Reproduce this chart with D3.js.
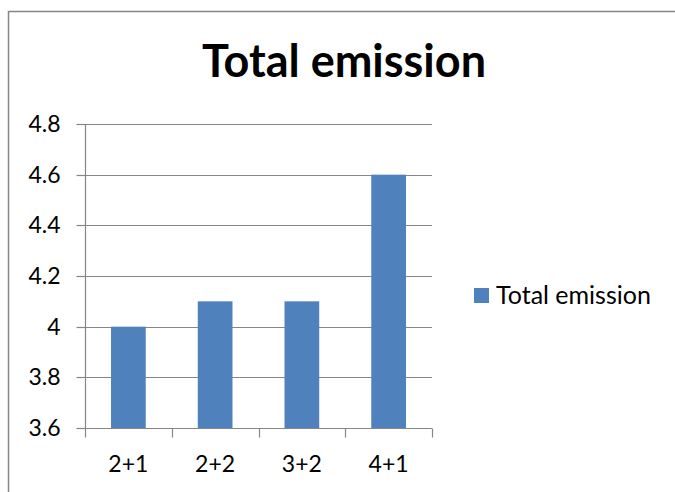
<!DOCTYPE html>
<html>
<head>
<meta charset="utf-8">
<script src="https://cdn.jsdelivr.net/npm/d3@7"></script>
<style>
  html, body { margin: 0; padding: 0; background: #fff; }
  svg { display: block; font-family: Lato, "Open Sans", sans-serif; }
</style>
</head>
<body>
<svg id="chart" width="675" height="492"></svg>
<script>
// Chart content
const chartTitle = "Total emission";
const seriesName = "Total emission";
const categories = ["2+1", "2+2", "3+2", "4+1"];
const values = [4.0, 4.1, 4.1, 4.6];
const yTicks = [3.6, 3.8, 4.0, 4.2, 4.4, 4.6, 4.8];
const yTickLabels = ["3.6", "3.8", "4", "4.2", "4.4", "4.6", "4.8"];

const W = 675, H = 492;
const barColor = "#4F81BD";
const lineColor = "#868686";

const svg = d3.select("#chart");

// chart area frame (open to the right and bottom)
svg.append("rect")
  .attr("x", 8.5).attr("y", 11.5)
  .attr("width", W + 20).attr("height", H + 20)
  .attr("fill", "#fff")
  .attr("stroke", lineColor)
  .attr("stroke-width", 1.5);

// title
svg.append("text")
  .attr("x", 344).attr("y", 77)
  .attr("text-anchor", "middle")
  .attr("font-size", 45)
  .attr("font-weight", 700)
  .attr("fill", "#000")
  .text(chartTitle);

const plot = { left: 85, right: 432, top: 124, bottom: 428 };

const x = d3.scaleBand()
  .domain(categories)
  .range([plot.left, plot.right])
  .paddingInner(0.6)
  .paddingOuter(0.3);

const xEdges = d3.scaleBand()
  .domain(categories)
  .range([plot.left, plot.right]);

const y = d3.scaleLinear()
  .domain([yTicks[0], yTicks[yTicks.length - 1]])
  .range([plot.bottom, plot.top]);

// horizontal gridlines
svg.append("g")
  .selectAll("line")
  .data(yTicks.slice(1))
  .join("line")
  .attr("x1", plot.left).attr("x2", plot.right)
  .attr("y1", d => Math.round(y(d)) + 0.5)
  .attr("y2", d => Math.round(y(d)) + 0.5)
  .attr("stroke", lineColor)
  .attr("stroke-width", 1.2);

// bars
svg.append("g")
  .selectAll("rect")
  .data(categories.map((c, i) => ({ c, v: values[i] })))
  .join("rect")
  .attr("x", d => x(d.c))
  .attr("width", x.bandwidth())
  .attr("y", d => y(d.v))
  .attr("height", d => y(yTicks[0]) - y(d.v))
  .attr("fill", barColor);

// y axis
const yAxis = d3.axisLeft(y)
  .tickValues(yTicks)
  .tickFormat((d, i) => yTickLabels[i])
  .tickSize(9)
  .tickPadding(16);

const gy = svg.append("g")
  .attr("transform", `translate(${plot.left + 0.5},0)`)
  .call(yAxis);
gy.select(".domain").attr("stroke", lineColor).attr("stroke-width", 1.2)
  .attr("d", `M0,${plot.top}V${plot.bottom}`);
gy.selectAll(".tick line").attr("stroke", lineColor).attr("stroke-width", 1.2);
gy.selectAll(".tick").attr("transform", d => `translate(0,${Math.round(y(d)) + 0.5})`);
gy.selectAll(".tick text")
  .attr("font-family", "Lato, 'Open Sans', sans-serif")
  .attr("font-size", 23)
  .attr("fill", "#000");

// x axis with ticks at category boundaries
const gx = svg.append("g")
  .attr("transform", `translate(0,${Math.round(plot.bottom) + 0.5})`);
gx.append("line")
  .attr("x1", plot.left).attr("x2", plot.right)
  .attr("stroke", lineColor).attr("stroke-width", 1.2);
const edges = categories.map(c => xEdges(c)).concat([plot.right]);
gx.selectAll("line.edge")
  .data(edges)
  .join("line")
  .attr("class", "edge")
  .attr("x1", d => Math.round(d) + 0.5).attr("x2", d => Math.round(d) + 0.5)
  .attr("y1", 0).attr("y2", 9)
  .attr("stroke", lineColor).attr("stroke-width", 1.2);
gx.selectAll("text")
  .data(categories)
  .join("text")
  .attr("x", d => xEdges(d) + xEdges.bandwidth() / 2)
  .attr("y", 43)
  .attr("text-anchor", "middle")
  .attr("font-size", 23)
  .attr("fill", "#000")
  .text(d => d);

// legend
const legend = svg.append("g").attr("transform", "translate(474,288)");
legend.append("rect")
  .attr("width", 15).attr("height", 15)
  .attr("fill", barColor);
legend.append("text")
  .attr("x", 22).attr("y", 15.5)
  .attr("font-size", 25)
  .attr("fill", "#000")
  .text(seriesName);
</script>
</body>
</html>
